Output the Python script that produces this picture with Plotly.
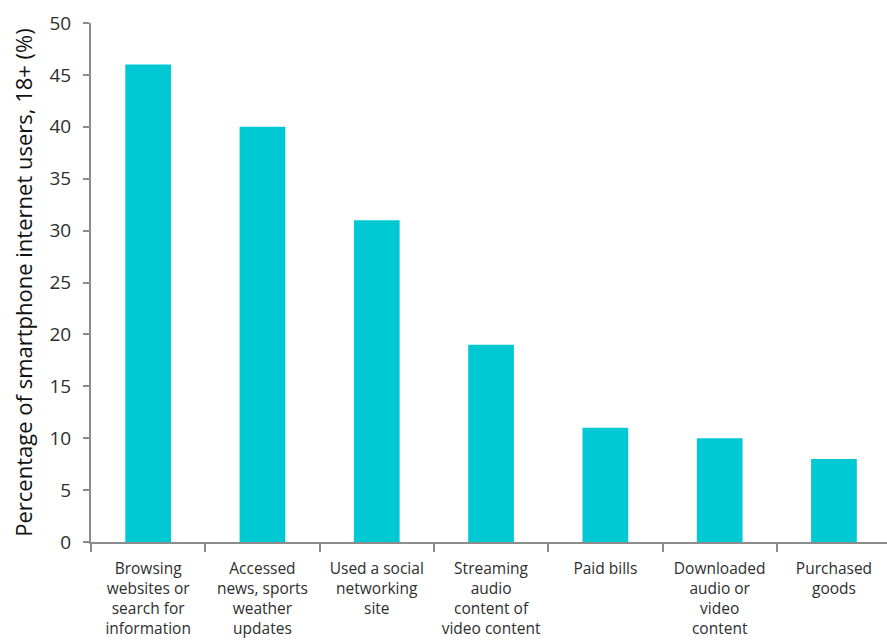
import plotly.graph_objects as go

# Smartphone internet activities among users aged 18+
categories = [
    "Browsing<br>websites or<br>search for<br>information",
    "Accessed<br>news, sports<br>weather<br>updates",
    "Used a social<br>networking<br>site",
    "Streaming<br>audio<br>content of<br>video content",
    "Paid bills",
    "Downloaded<br>audio or<br>video<br>content",
    "Purchased<br>goods",
]
shares = [46, 40, 31, 19, 11, 10, 8]
y_ticks = [0, 5, 10, 15, 20, 25, 30, 35, 40, 45, 50]

BAR = "#00C9D3"
AXIS = "#8C8C8C"
TEXT = "#2E2E2E"
FONT = "Open Sans"

fig = go.Figure(
    go.Bar(x=categories, y=shares, marker=dict(color=BAR, line=dict(width=0)), width=0.4)
)

fig.update_layout(
    width=887,
    height=641,
    margin=dict(l=91, r=0, t=23, b=99),
    paper_bgcolor="white",
    plot_bgcolor="white",
    showlegend=False,
    bargap=0.6,
    font=dict(family=FONT, color=TEXT),
)

fig.update_xaxes(
    type="category",
    range=[-0.5, 6.464],
    automargin=False,
    showline=True,
    linecolor=AXIS,
    linewidth=2,
    ticks="outside",
    tickson="boundaries",
    ticklen=8,
    tickwidth=2,
    tickcolor=AXIS,
    ticklabelstandoff=11,
    tickfont=dict(size=15.5, family=FONT, color=TEXT),
    showgrid=False,
    zeroline=False,
)

fig.update_yaxes(
    range=[0, 50],
    tickvals=y_ticks,
    automargin=False,
    showline=True,
    linecolor=AXIS,
    linewidth=2,
    ticks="outside",
    ticklen=6,
    tickwidth=2,
    tickcolor=AXIS,
    ticklabelstandoff=8,
    tickfont=dict(size=19, family=FONT, color=TEXT),
    showgrid=False,
    zeroline=False,
    title=dict(
        text="Percentage of smartphone internet users, 18+ (%)",
        font=dict(size=22, family=FONT, color="#111111"),
        standoff=11,
    ),
)

fig.write_html("out.html")
